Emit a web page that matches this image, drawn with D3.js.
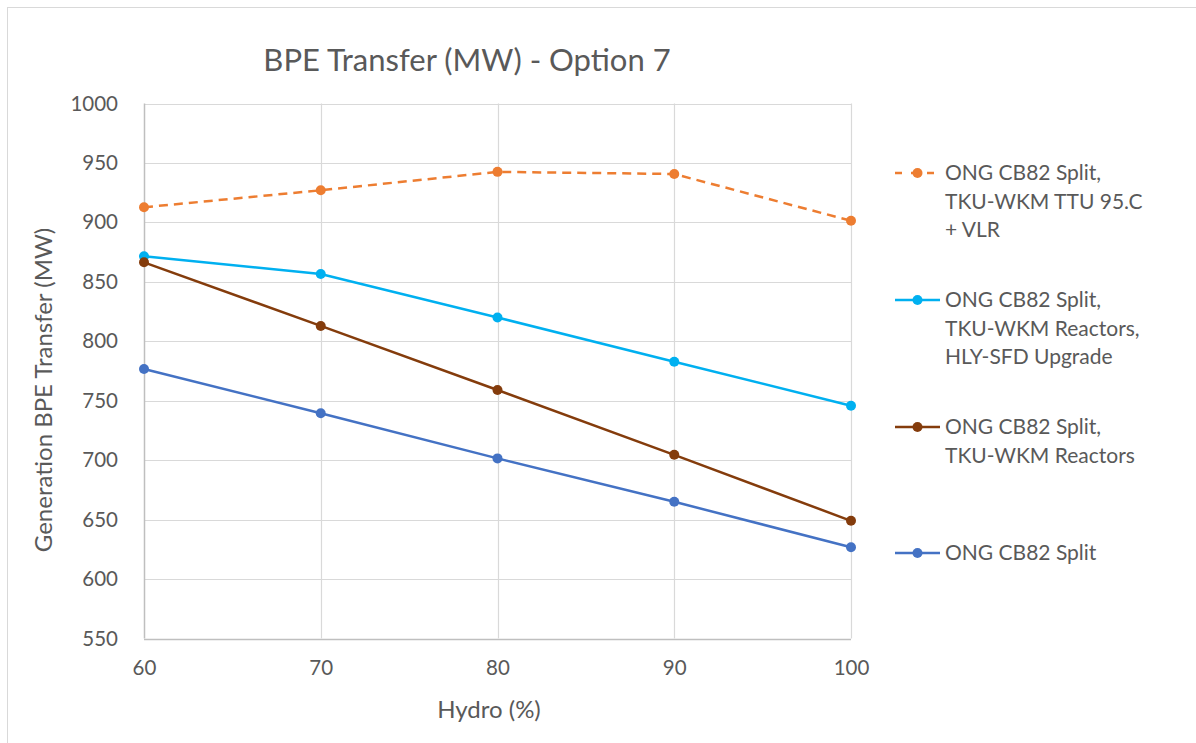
<!DOCTYPE html>
<html>
<head>
<meta charset="utf-8">
<script src="https://cdn.jsdelivr.net/npm/d3@7"></script>
<style>
  body { margin: 0; background: #fff; }
  text { font-family: Lato, "Open Sans", sans-serif; fill: #595959; }
</style>
</head>
<body>
<svg id="chart" width="1196" height="743"></svg>
<script>
const hydro = [60, 70, 80, 90, 100];
const seriesNames = [
  ["ONG CB82 Split,", "TKU-WKM TTU 95.C", "+ VLR"],
  ["ONG CB82 Split,", "TKU-WKM Reactors,", "HLY-SFD Upgrade"],
  ["ONG CB82 Split,", "TKU-WKM Reactors"],
  ["ONG CB82 Split"]
];
const ttuVlr = [912.7, 927, 942.5, 940.7, 901.4];
const reactorsHly = [871.5, 856.6, 820, 782.8, 745.8];
const reactors = [866.4, 812.9, 759, 704.5, 649];
const splitOnly = [776.7, 739.5, 701.5, 665, 626.7];
const yTicks = [550, 600, 650, 700, 750, 800, 850, 900, 950, 1000];
const xTicks = [60, 70, 80, 90, 100];
const colors = ["#ED7D31", "#00B0F0", "#843C0C", "#4472C4"];
const dashes = ["9,6", null, null, null];
const allValues = [ttuVlr, reactorsHly, reactors, splitOnly];

const svg = d3.select("#chart");
svg.append("rect").attr("x", 7.5).attr("y", 7.5).attr("width", 1200).attr("height", 1200)
  .attr("fill", "#fff").attr("stroke", "#d9d9d9").attr("stroke-width", 1);

const x = d3.scaleLinear().domain([60, 100]).range([144, 851]);
const y = d3.scaleLinear().domain([550, 1000]).range([638.5, 103.5]);

// gridlines
svg.append("g").selectAll("line.h").data(yTicks).join("line")
  .attr("x1", x(60)).attr("x2", x(100))
  .attr("y1", d => Math.round(y(d)) + 0.5).attr("y2", d => Math.round(y(d)) + 0.5)
  .attr("stroke", d => d === 550 ? "#bfbfbf" : "#d9d9d9").attr("stroke-width", d => d === 550 ? 1.5 : 1.2);
svg.append("g").selectAll("line.v").data(xTicks).join("line")
  .attr("x1", d => Math.round(x(d)) + 0.5).attr("x2", d => Math.round(x(d)) + 0.5)
  .attr("y1", y(1000)).attr("y2", y(550))
  .attr("stroke", d => d === 60 ? "#bfbfbf" : "#d9d9d9").attr("stroke-width", d => d === 60 ? 1.5 : 1.2);

// axes labels via d3 axes (no domain/tick lines)
const yAxis = svg.append("g").attr("transform", `translate(${x(60) - 23},0)`)
  .call(d3.axisLeft(y).tickValues(yTicks).tickSize(0).tickFormat(d3.format("d")));
yAxis.select(".domain").remove();
yAxis.selectAll("text").attr("font-size", 20.5).attr("fill", "#595959").attr("font-family", "Lato, sans-serif");

const xAxis = svg.append("g").attr("transform", `translate(0,${y(550) + 20})`)
  .call(d3.axisBottom(x).tickValues(xTicks).tickSize(0).tickFormat(d3.format("d")));
xAxis.select(".domain").remove();
xAxis.selectAll("text").attr("font-size", 20.5).attr("fill", "#595959").attr("font-family", "Lato, sans-serif")
  .attr("dy", "0.68em");

// titles
svg.append("text").attr("x", 467).attr("y", 71).attr("text-anchor", "middle")
  .attr("font-size", 31).text("BPE Transfer (MW) - Option 7");
svg.append("text").attr("x", 489).attr("y", 718).attr("text-anchor", "middle")
  .attr("font-size", 24).text("Hydro (%)");
svg.append("text").attr("transform", "translate(52,390) rotate(-90)").attr("text-anchor", "middle")
  .attr("font-size", 24).text("Generation BPE Transfer (MW)");

// series
const line = d3.line().x((d, i) => x(hydro[i])).y(d => y(d));
allValues.forEach((vals, k) => {
  const g = svg.append("g");
  g.append("path").datum(vals).attr("d", line).attr("fill", "none")
    .attr("stroke", colors[k]).attr("stroke-width", 2.5)
    .attr("stroke-dasharray", dashes[k]);
  g.selectAll("circle").data(vals).join("circle")
    .attr("cx", (d, i) => x(hydro[i])).attr("cy", d => y(d)).attr("r", 5)
    .attr("fill", colors[k]);
});

// legend
const legendY = [173, 300, 427, 553];
seriesNames.forEach((lines, k) => {
  const g = svg.append("g").attr("transform", `translate(0,${legendY[k]})`);
  g.append("line").attr("x1", 895).attr("x2", 940).attr("y1", 0).attr("y2", 0)
    .attr("stroke", colors[k]).attr("stroke-width", 2.5).attr("stroke-dasharray", dashes[k] ? "7,9" : null);
  g.append("circle").attr("cx", 917.5).attr("cy", 0).attr("r", 5).attr("fill", colors[k]);
  lines.forEach((t, j) => {
    g.append("text").attr("x", 945).attr("y", j * 28.5).attr("dy", "0.35em")
      .attr("font-size", 21).text(t);
  });
});
</script>
</body>
</html>
